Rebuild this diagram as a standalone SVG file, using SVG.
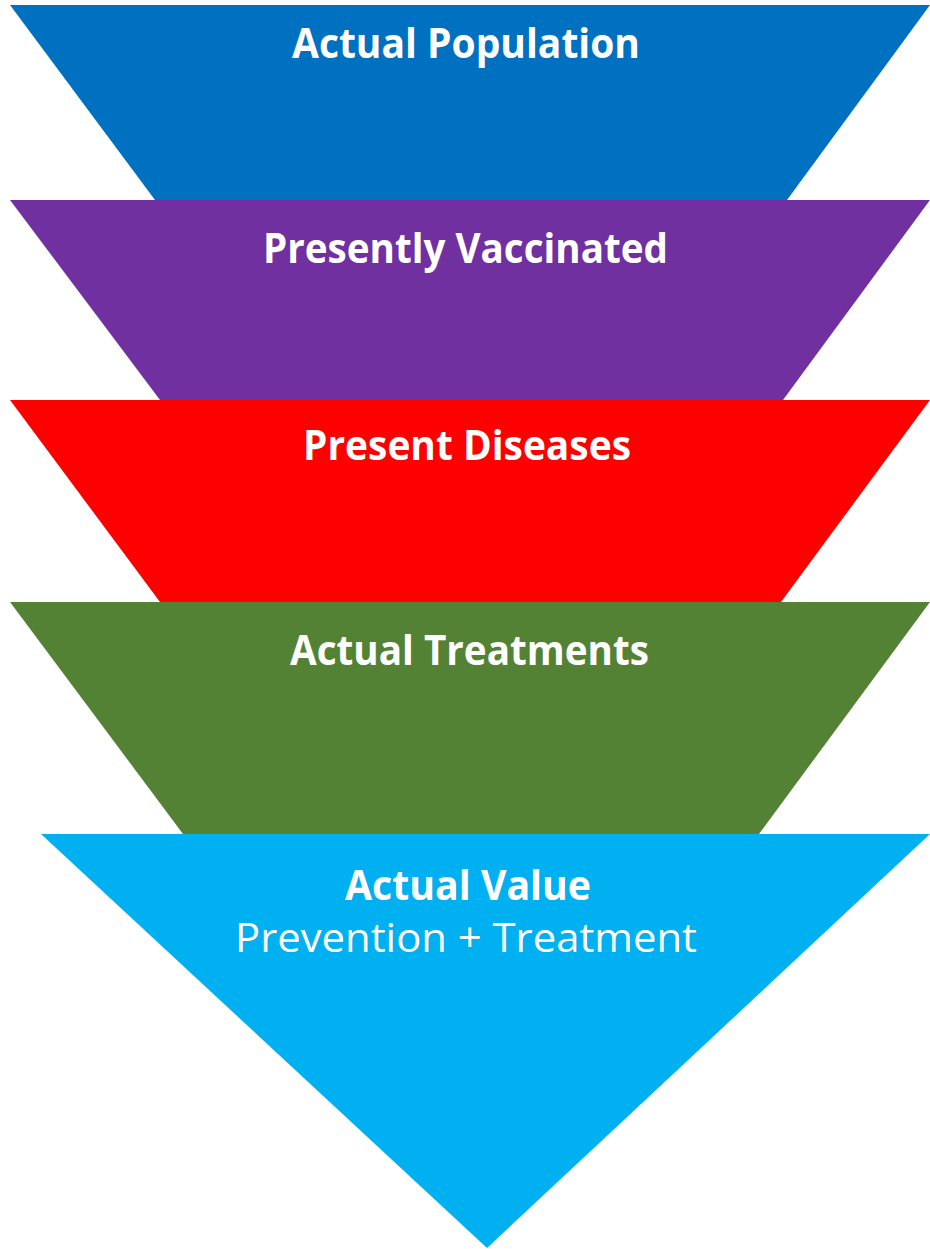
<svg xmlns="http://www.w3.org/2000/svg" width="930" height="1249" viewBox="0 0 930 1249">
<style>
.t{font-family:"Open Sans","Liberation Sans",sans-serif;font-size:41px;fill:#fff;text-anchor:middle}
.b{font-weight:bold}
</style>
<rect width="930" height="1249" fill="#fff"/>
<g id="actual-population">
<polygon points="10,5 930,5 787,200 155,200" fill="#0070C0"/>
<text class="t b" x="466" y="58" textLength="348" lengthAdjust="spacingAndGlyphs">Actual Population</text>
</g>
<g id="presently-vaccinated">
<polygon points="10,200 930,200 783,400 160,400" fill="#7030A0"/>
<text class="t b" x="465.5" y="263" textLength="405" lengthAdjust="spacingAndGlyphs">Presently Vaccinated</text>
</g>
<g id="present-diseases">
<polygon points="10,400 930,400 781,602 160,602" fill="#FF0000"/>
<text class="t b" x="467" y="460" textLength="328" lengthAdjust="spacingAndGlyphs">Present Diseases</text>
</g>
<g id="actual-treatments">
<polygon points="10,602 930,602 759,834 183,834" fill="#548235"/>
<text class="t b" x="469.5" y="665" textLength="359" lengthAdjust="spacingAndGlyphs">Actual Treatments</text>
</g>
<g id="actual-value">
<polygon points="41,834 930,834 487,1248" fill="#00B0F0"/>
<text class="t b" x="468" y="900" textLength="246" lengthAdjust="spacingAndGlyphs">Actual Value</text>
<text class="t" x="466" y="952" textLength="462" lengthAdjust="spacingAndGlyphs">Prevention + Treatment</text>
</g>
<g id="connectors"></g>
</svg>
